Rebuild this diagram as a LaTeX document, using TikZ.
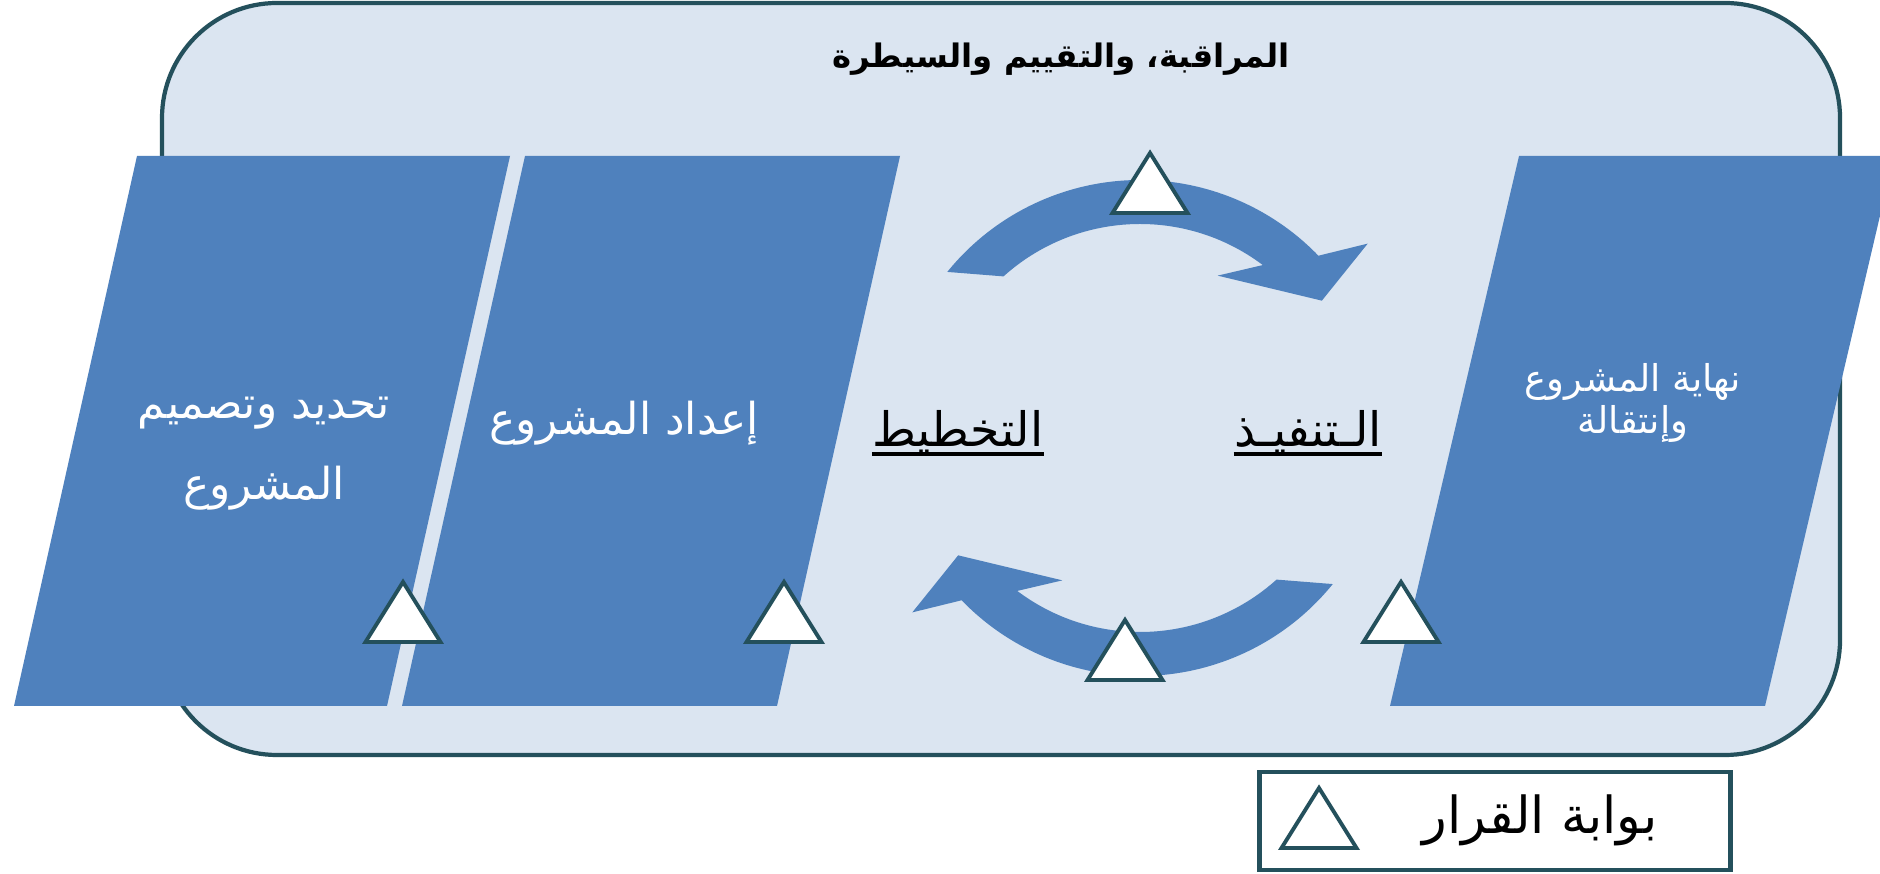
\documentclass[tikz,border=0pt]{standalone}
\usepackage{fontspec}
\usetikzlibrary{positioning}
\newfontfamily\arabicfont[Script=Arabic]{DejaVu Sans}
\TeXXeTstate=1

\definecolor{panelbg}{HTML}{DBE5F1}
\definecolor{edgeteal}{HTML}{24505C}
\definecolor{phaseblue}{HTML}{4F81BD}

\newcommand{\decgate}[2]{\draw[gate] (#1,#2) -- ++(37.5,-60) -- ++(-75,0) -- cycle;}

\begin{document}
\begin{tikzpicture}[
    x=0.01cm, y=0.01cm,
    frame/.style={draw=edgeteal, line width=1.2pt, fill=panelbg, rounded corners=1.15cm},
    phase/.style={fill=phaseblue},
    gate/.style={draw=edgeteal, line width=1.1pt, fill=white, line join=miter},
    phasetext/.style={text=white, align=center, inner sep=0pt, font=\arabicfont\fontsize{12.5}{23}\selectfont},
    steptext/.style={text=black, inner sep=0pt, font=\arabicfont\fontsize{13.5}{15}\selectfont},
    legendbox/.style={draw=edgeteal, line width=1.4pt, fill=white, minimum width=4.7cm, minimum height=0.98cm}
]

\clip (0,0) rectangle (1880,873);
\fill[white] (0,0) rectangle (1880,873);

\draw[frame] (162,118) rectangle (1840,870);

\fill[phase] (137,717) -- (510,717) -- (387,167) -- (14,167) -- cycle;
\fill[phase] (525,717) -- (900,717) -- (777,167) -- (402,167) -- cycle;
\fill[phase] (1519,717) -- (1894,717) -- (1765,167) -- (1390,167) -- cycle;

\begin{scope}[shift={(1140,445)}]
\foreach \r in {0,180}
    \fill[phase, rotate=\r] (141:248) arc[start angle=141, end angle=44, radius=248]
        -- (39:293) -- (35:222) -- (63:171) -- (53:204)
        arc[start angle=53, end angle=132, radius=204] -- cycle;
\end{scope}

\decgate{403}{291}
\decgate{784}{291}
\decgate{1401}{291}
\decgate{1125}{253}
\decgate{1150}{720}

\node[steptext, anchor=base, font=\arabicfont\bfseries\fontsize{9.2}{11}\selectfont] (monitor) at (1061,805) {\beginR المراقبة، والتقييم والسيطرة\endR};

\node[phasetext] (define) at (264,419) {\beginR تحديد وتصميم\endR\\\beginR المشروع\endR};
\node[phasetext, anchor=base] (prepare) at (624,438) {\beginR إعداد المشروع\endR};
\node[phasetext, font=\arabicfont\fontsize{10.5}{12}\selectfont] (closure) at (1633,470) {\beginR نهاية المشروع\endR\\\beginR وإنتقالة\endR};

\node[steptext, anchor=base] (planning) at (958,426) {\beginR التخطيط\endR};
\node[steptext, anchor=base] (execution) at (1308,426) {\beginR الـتنفيـذ\endR};
\draw[line width=1pt] ([yshift=-2pt]planning.base west) -- ([yshift=-2pt]planning.base east);
\draw[line width=1pt] ([yshift=-2pt]execution.base west) -- ([yshift=-2pt]execution.base east);

\node[legendbox] (legend) at (1495,52) {};
\node[steptext, anchor=base, font=\arabicfont\fontsize{14.5}{16}\selectfont] (gatelabel) at (1540,40) {\beginR بوابة القرار\endR};
\decgate{1319}{85}

\end{tikzpicture}
\end{document}
